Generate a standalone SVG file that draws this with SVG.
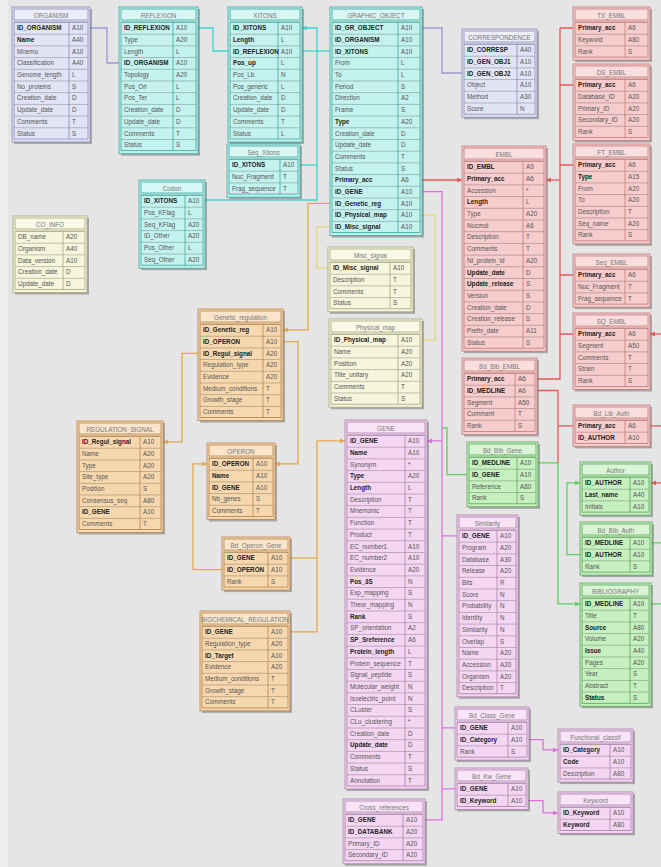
<svg xmlns="http://www.w3.org/2000/svg" width="661" height="867" viewBox="0 0 661 867">
<style>
.t{font:6.3px "Liberation Sans",Arial,sans-serif;fill:#555}
.b{font-weight:bold;fill:#222}
.h{text-anchor:middle;fill:#777}
.sh{fill:#6a6a6a;opacity:.5}
.ti{fill:#fff;fill-opacity:.35}
.rw{fill:url(#rl)}
.bx,.ti,.rw,.dv{stroke-width:.8}
.dv{fill:none}
.lav .bx{fill:#e2e4f6}.lav .bx,.lav .ti,.lav .rw,.lav .dv{stroke:#8c8cb4}
.cy .bx{fill:#c4f2ee}.cy .bx,.cy .ti,.cy .rw,.cy .dv{stroke:#3ca8a0}
.rd .bx{fill:#f7cccc}.rd .bx,.rd .ti,.rd .rw,.rd .dv{stroke:#c47c7c}
.og .bx{fill:#f7d8ae}.og .bx,.og .ti,.og .rw,.og .dv{stroke:#b48450}
.ye .bx{fill:#f6f6dc}.ye .bx,.ye .ti,.ye .rw,.ye .dv{stroke:#a8a880}
.mg .bx{fill:#f4d6f2}.mg .bx,.mg .ti,.mg .rw,.mg .dv{stroke:#a882a8}
.gn .bx{fill:#c6f0c0}.gn .bx,.gn .ti,.gn .rw,.gn .dv{stroke:#5ca85c}
#conn path{fill:none;stroke-width:1.3}
.cl{stroke:#9a9ad0}.cc{stroke:#3cd6cc}.cr{stroke:#e85858}.co{stroke:#e8a848}.cyl{stroke:#e2dc70}.cm{stroke:#e070e0}.cg{stroke:#60d060}
</style>
<defs>
<pattern id="rl" patternUnits="userSpaceOnUse" x="0" y="15" width="300" height="11.7"><path d="M0 .4H300" stroke="#000" stroke-opacity=".3" stroke-width=".8"/></pattern>
<marker id="ar" viewBox="0 0 6 6" refX="6" refY="3" markerWidth="5" markerHeight="5" orient="auto" markerUnits="userSpaceOnUse"><path d="M0 0L6 3L0 6z" fill="#e85858"/></marker>
<marker id="ac" viewBox="0 0 6 6" refX="6" refY="3" markerWidth="5" markerHeight="5" orient="auto" markerUnits="userSpaceOnUse"><path d="M0 0L6 3L0 6z" fill="#3cd6cc"/></marker>
<marker id="am" viewBox="0 0 6 6" refX="6" refY="3" markerWidth="5" markerHeight="5" orient="auto" markerUnits="userSpaceOnUse"><path d="M0 0L6 3L0 6z" fill="#e070e0"/></marker>
<marker id="ao" viewBox="0 0 6 6" refX="6" refY="3" markerWidth="5" markerHeight="5" orient="auto" markerUnits="userSpaceOnUse"><path d="M0 0L6 3L0 6z" fill="#e8a848"/></marker>
<marker id="ag" viewBox="0 0 6 6" refX="6" refY="3" markerWidth="5" markerHeight="5" orient="auto" markerUnits="userSpaceOnUse"><path d="M0 0L6 3L0 6z" fill="#60d060"/></marker>
</defs>
<rect width="661" height="867" fill="#e5e5e6"/>
<rect width="8" height="867" fill="#efefef"/>

<g id="conn">
<path class="cl" d="M90 28H107V63H119"/>
<path class="cl" d="M422 28H442V73H462"/>
<path class="cc" d="M198 28H213V51H228"/>
<path class="cc" d="M302 51H330"/>
<path class="cc" d="M205 200H317V28H302" marker-end="url(#ac)"/>
<path class="cc" d="M300 165H317"/>
<path class="cr" d="M422 180H462" marker-end="url(#ar)"/>
<path class="cr" d="M560 28V379H537"/>
<path class="cr" d="M560 28H573M560 85H573M560 165H573M560 275H573M560 334H573"/>
<path class="cr" d="M560 180H546" marker-end="url(#ar)"/>
<path class="cr" d="M537 390.5H558V462.9"/>
<path class="cr" d="M558 425.9H573"/>
<path class="cr" d="M650 425.9H661"/>
<path class="cr" d="M661 334H650" marker-end="url(#ar)"/>
<path class="cr" d="M661 482.9H651" marker-end="url(#ar)"/>
<path class="cg" d="M538 462.9H558V603.9H580" marker-end="url(#ag)"/>
<path class="cg" d="M580 554.6H567V482.9H580" marker-end="url(#ag)"/>
<path class="cg" d="M442 428H447V474.6H467"/>
<path class="cg" d="M652 542.9H661M651 603.9H661"/>
<path class="cm" d="M422 191.7H442V819.9H425"/>
<path class="cm" d="M442 440.9H427" marker-end="url(#am)"/>
<path class="cm" d="M442 535.9H457M442 727.9H455M442 788.9H455"/>
<path class="cm" d="M529 739.6H543V749.9H558" marker-end="url(#am)"/>
<path class="cm" d="M528 800.6H543V812.9H558" marker-end="url(#am)"/>
<path class="co" d="M330 203.4H308V329.9H283" marker-end="url(#ao)"/>
<path class="co" d="M283 341.6H298V463.9H275" marker-end="url(#ao)"/>
<path class="co" d="M198 353.3H182V441.9H163" marker-end="url(#ao)"/>
<path class="co" d="M222 569.6H193V463.9H207" marker-end="url(#ao)"/>
<path class="co" d="M290 557.9H317"/>
<path class="co" d="M290 631.9H317V440.9H345" marker-end="url(#ao)"/>
<path class="cyl" d="M330 226.8H317V267.9H328"/>
<path class="cyl" d="M422 215.1H435V339.9H422"/>
</g>

<g id="organism" class="lav" transform="translate(12,7)">
<rect class="sh" x="2" y="2" width="78" height="135"/><rect class="bx" width="78" height="135"/><rect class="ti" x="2" y="2" width="74" height="11"/><rect class="rw" x="2" y="15" width="74" height="117"/><path class="dv" d="M57 15v117"/>
<text class="t"><tspan class="h" x="39" y="10.5">ORGANISM</tspan><tspan class="b" x="5" y="23.2">ID_ORGANISM</tspan><tspan x="60" y="23.2">A10</tspan><tspan class="b" x="5" y="34.9">Name</tspan><tspan x="60" y="34.9">A40</tspan><tspan x="5" y="46.6">Mnemo</tspan><tspan x="60" y="46.6">A10</tspan><tspan x="5" y="58.3">Classification</tspan><tspan x="60" y="58.3">A40</tspan><tspan x="5" y="70">Genome_length</tspan><tspan x="60" y="70">L</tspan><tspan x="5" y="81.7">No_proteins</tspan><tspan x="60" y="81.7">S</tspan><tspan x="5" y="93.4">Creation_date</tspan><tspan x="60" y="93.4">D</tspan><tspan x="5" y="105.1">Update_date</tspan><tspan x="60" y="105.1">D</tspan><tspan x="5" y="116.8">Comments</tspan><tspan x="60" y="116.8">T</tspan><tspan x="5" y="128.5">Status</tspan><tspan x="60" y="128.5">S</tspan></text>
</g>

<g id="reflexion" class="cy" transform="translate(119,7)">
<rect class="sh" x="2" y="2" width="79" height="146.7"/><rect class="bx" width="79" height="146.7"/><rect class="ti" x="2" y="2" width="75" height="11"/><rect class="rw" x="2" y="15" width="75" height="128.7"/><path class="dv" d="M54 15v128.7"/>
<text class="t"><tspan class="h" x="39.5" y="10.5">REFLEXION</tspan><tspan class="b" x="5" y="23.2">ID_REFLEXION</tspan><tspan x="57" y="23.2">A10</tspan><tspan x="5" y="34.9">Type</tspan><tspan x="57" y="34.9">A20</tspan><tspan x="5" y="46.6">Length</tspan><tspan x="57" y="46.6">L</tspan><tspan class="b" x="5" y="58.3">ID_ORGANISM</tspan><tspan x="57" y="58.3">A10</tspan><tspan x="5" y="70">Topology</tspan><tspan x="57" y="70">A20</tspan><tspan x="5" y="81.7">Pos_Ori</tspan><tspan x="57" y="81.7">L</tspan><tspan x="5" y="93.4">Pos_Ter</tspan><tspan x="57" y="93.4">L</tspan><tspan x="5" y="105.1">Creation_date</tspan><tspan x="57" y="105.1">D</tspan><tspan x="5" y="116.8">Update_date</tspan><tspan x="57" y="116.8">D</tspan><tspan x="5" y="128.5">Comments</tspan><tspan x="57" y="128.5">T</tspan><tspan x="5" y="140.2">Status</tspan><tspan x="57" y="140.2">S</tspan></text>
</g>

<g id="xitons" class="cy" transform="translate(228,7)">
<rect class="sh" x="2" y="2" width="74" height="135"/><rect class="bx" width="74" height="135"/><rect class="ti" x="2" y="2" width="70" height="11"/><rect class="rw" x="2" y="15" width="70" height="117"/><path class="dv" d="M50 15v117"/>
<text class="t"><tspan class="h" x="37" y="10.5">XITONS</tspan><tspan class="b" x="5" y="23.2">ID_XITONS</tspan><tspan x="53" y="23.2">A10</tspan><tspan class="b" x="5" y="34.9">Length</tspan><tspan x="53" y="34.9">L</tspan><tspan class="b" x="5" y="46.6">ID_REFLEXION</tspan><tspan x="53" y="46.6">A10</tspan><tspan class="b" x="5" y="58.3">Pos_up</tspan><tspan x="53" y="58.3">L</tspan><tspan x="5" y="70">Pos_Lb</tspan><tspan x="53" y="70">N</tspan><tspan x="5" y="81.7">Pos_generic</tspan><tspan x="53" y="81.7">L</tspan><tspan x="5" y="93.4">Creation_date</tspan><tspan x="53" y="93.4">D</tspan><tspan x="5" y="105.1">Update_date</tspan><tspan x="53" y="105.1">D</tspan><tspan x="5" y="116.8">Comments</tspan><tspan x="53" y="116.8">T</tspan><tspan x="5" y="128.5">Status</tspan><tspan x="53" y="128.5">L</tspan></text>
</g>

<g id="seq_xitons" class="cy" transform="translate(227,144)">
<rect class="sh" x="2" y="2" width="73" height="53.1"/><rect class="bx" width="73" height="53.1"/><rect class="ti" x="2" y="2" width="69" height="11"/><rect class="rw" x="2" y="15" width="69" height="35.1"/><path class="dv" d="M53 15v35.1"/>
<text class="t"><tspan class="h" x="36.5" y="10.5">Seq_Xitons</tspan><tspan class="b" x="5" y="23.2">ID_XITONS</tspan><tspan x="56" y="23.2">A10</tspan><tspan x="5" y="34.9">Nuc_Fragment</tspan><tspan x="56" y="34.9">T</tspan><tspan x="5" y="46.6">Frag_sequence</tspan><tspan x="56" y="46.6">T</tspan></text>
</g>

<g id="graphic_object" class="cy" transform="translate(330,7)">
<rect class="sh" x="2" y="2" width="92" height="228.6"/><rect class="bx" width="92" height="228.6"/><rect class="ti" x="2" y="2" width="88" height="11"/><rect class="rw" x="2" y="15" width="88" height="210.6"/><path class="dv" d="M68 15v210.6"/>
<text class="t"><tspan class="h" x="46" y="10.5">GRAPHIC_OBJECT</tspan><tspan class="b" x="5" y="23.2">ID_GR_OBJECT</tspan><tspan x="71" y="23.2">A10</tspan><tspan class="b" x="5" y="34.9">ID_ORGANISM</tspan><tspan x="71" y="34.9">A10</tspan><tspan class="b" x="5" y="46.6">ID_XITONS</tspan><tspan x="71" y="46.6">A10</tspan><tspan x="5" y="58.3">From</tspan><tspan x="71" y="58.3">L</tspan><tspan x="5" y="70">To</tspan><tspan x="71" y="70">L</tspan><tspan x="5" y="81.7">Period</tspan><tspan x="71" y="81.7">S</tspan><tspan x="5" y="93.4">Direction</tspan><tspan x="71" y="93.4">A2</tspan><tspan x="5" y="105.1">Frame</tspan><tspan x="71" y="105.1">S</tspan><tspan class="b" x="5" y="116.8">Type</tspan><tspan x="71" y="116.8">A20</tspan><tspan x="5" y="128.5">Creation_date</tspan><tspan x="71" y="128.5">D</tspan><tspan x="5" y="140.2">Update_date</tspan><tspan x="71" y="140.2">D</tspan><tspan x="5" y="151.9">Comments</tspan><tspan x="71" y="151.9">T</tspan><tspan x="5" y="163.6">Status</tspan><tspan x="71" y="163.6">S</tspan><tspan class="b" x="5" y="175.3">Primary_acc</tspan><tspan x="71" y="175.3">A6</tspan><tspan class="b" x="5" y="187">ID_GENE</tspan><tspan x="71" y="187">A10</tspan><tspan class="b" x="5" y="198.7">ID_Genetic_reg</tspan><tspan x="71" y="198.7">A10</tspan><tspan class="b" x="5" y="210.4">ID_Physical_map</tspan><tspan x="71" y="210.4">A10</tspan><tspan class="b" x="5" y="222.1">ID_Misc_signal</tspan><tspan x="71" y="222.1">A10</tspan></text>
</g>

<g id="correspondence" class="lav" transform="translate(462,29)">
<rect class="sh" x="2" y="2" width="75" height="88.2"/><rect class="bx" width="75" height="88.2"/><rect class="ti" x="2" y="2" width="71" height="11"/><rect class="rw" x="2" y="15" width="71" height="70.2"/><path class="dv" d="M55 15v70.2"/>
<text class="t"><tspan class="h" x="37.5" y="10.5">CORRESPONDENCE</tspan><tspan class="b" x="5" y="23.2">ID_CORRESP</tspan><tspan x="58" y="23.2">A40</tspan><tspan class="b" x="5" y="34.9">ID_GEN_OBJ1</tspan><tspan x="58" y="34.9">A10</tspan><tspan class="b" x="5" y="46.6">ID_GEN_OBJ2</tspan><tspan x="58" y="46.6">A10</tspan><tspan x="5" y="58.3">Object</tspan><tspan x="58" y="58.3">A10</tspan><tspan x="5" y="70">Method</tspan><tspan x="58" y="70">A30</tspan><tspan x="5" y="81.7">Score</tspan><tspan x="58" y="81.7">N</tspan></text>
</g>

<g id="tx_embl" class="rd" transform="translate(573,7)">
<rect class="sh" x="2" y="2" width="77" height="53.1"/><rect class="bx" width="77" height="53.1"/><rect class="ti" x="2" y="2" width="73" height="11"/><rect class="rw" x="2" y="15" width="73" height="35.1"/><path class="dv" d="M52 15v35.1"/>
<text class="t"><tspan class="h" x="38.5" y="10.5">TX_EMBL</tspan><tspan class="b" x="5" y="23.2">Primary_acc</tspan><tspan x="55" y="23.2">A6</tspan><tspan x="5" y="34.9">Keyword</tspan><tspan x="55" y="34.9">A80</tspan><tspan x="5" y="46.6">Rank</tspan><tspan x="55" y="46.6">S</tspan></text>
</g>

<g id="ds_embl" class="rd" transform="translate(573,64)">
<rect class="sh" x="2" y="2" width="77" height="76.5"/><rect class="bx" width="77" height="76.5"/><rect class="ti" x="2" y="2" width="73" height="11"/><rect class="rw" x="2" y="15" width="73" height="58.5"/><path class="dv" d="M52 15v58.5"/>
<text class="t"><tspan class="h" x="38.5" y="10.5">DS_EMBL</tspan><tspan class="b" x="5" y="23.2">Primary_acc</tspan><tspan x="55" y="23.2">A6</tspan><tspan x="5" y="34.9">Database_ID</tspan><tspan x="55" y="34.9">A20</tspan><tspan x="5" y="46.6">Primary_ID</tspan><tspan x="55" y="46.6">A20</tspan><tspan x="5" y="58.3">Secondary_ID</tspan><tspan x="55" y="58.3">A20</tspan><tspan x="5" y="70">Rank</tspan><tspan x="55" y="70">S</tspan></text>
</g>

<g id="ft_embl" class="rd" transform="translate(573,144)">
<rect class="sh" x="2" y="2" width="77" height="99.9"/><rect class="bx" width="77" height="99.9"/><rect class="ti" x="2" y="2" width="73" height="11"/><rect class="rw" x="2" y="15" width="73" height="81.9"/><path class="dv" d="M52 15v81.9"/>
<text class="t"><tspan class="h" x="38.5" y="10.5">FT_EMBL</tspan><tspan class="b" x="5" y="23.2">Primary_acc</tspan><tspan x="55" y="23.2">A6</tspan><tspan class="b" x="5" y="34.9">Type</tspan><tspan x="55" y="34.9">A15</tspan><tspan x="5" y="46.6">From</tspan><tspan x="55" y="46.6">A20</tspan><tspan x="5" y="58.3">To</tspan><tspan x="55" y="58.3">A20</tspan><tspan x="5" y="70">Description</tspan><tspan x="55" y="70">T</tspan><tspan x="5" y="81.7">Seq_name</tspan><tspan x="55" y="81.7">A20</tspan><tspan x="5" y="93.4">Rank</tspan><tspan x="55" y="93.4">S</tspan></text>
</g>

<g id="seq_embl" class="rd" transform="translate(573,254)">
<rect class="sh" x="2" y="2" width="77" height="53.1"/><rect class="bx" width="77" height="53.1"/><rect class="ti" x="2" y="2" width="73" height="11"/><rect class="rw" x="2" y="15" width="73" height="35.1"/><path class="dv" d="M52 15v35.1"/>
<text class="t"><tspan class="h" x="38.5" y="10.5">Seq_EMBL</tspan><tspan class="b" x="5" y="23.2">Primary_acc</tspan><tspan x="55" y="23.2">A6</tspan><tspan x="5" y="34.9">Nuc_Fragment</tspan><tspan x="55" y="34.9">T</tspan><tspan x="5" y="46.6">Frag_sequence</tspan><tspan x="55" y="46.6">T</tspan></text>
</g>

<g id="sq_embl" class="rd" transform="translate(573,313)">
<rect class="sh" x="2" y="2" width="77" height="76.5"/><rect class="bx" width="77" height="76.5"/><rect class="ti" x="2" y="2" width="73" height="11"/><rect class="rw" x="2" y="15" width="73" height="58.5"/><path class="dv" d="M52 15v58.5"/>
<text class="t"><tspan class="h" x="38.5" y="10.5">SQ_EMBL</tspan><tspan class="b" x="5" y="23.2">Primary_acc</tspan><tspan x="55" y="23.2">A6</tspan><tspan x="5" y="34.9">Segment</tspan><tspan x="55" y="34.9">A50</tspan><tspan x="5" y="46.6">Comments</tspan><tspan x="55" y="46.6">T</tspan><tspan x="5" y="58.3">Strain</tspan><tspan x="55" y="58.3">T</tspan><tspan x="5" y="70">Rank</tspan><tspan x="55" y="70">S</tspan></text>
</g>

<g id="bd_lib_auth" class="rd" transform="translate(573,405)">
<rect class="sh" x="2" y="2" width="77" height="41.4"/><rect class="bx" width="77" height="41.4"/><rect class="ti" x="2" y="2" width="73" height="11"/><rect class="rw" x="2" y="15" width="73" height="23.4"/><path class="dv" d="M52 15v23.4"/>
<text class="t"><tspan class="h" x="38.5" y="10.5">Bd_Lib_Auth</tspan><tspan class="b" x="5" y="23.2">Primary_acc</tspan><tspan x="55" y="23.2">A6</tspan><tspan class="b" x="5" y="34.9">ID_AUTHOR</tspan><tspan x="55" y="34.9">A10</tspan></text>
</g>

<g id="embl" class="rd" transform="translate(462,146)">
<rect class="sh" x="2" y="2" width="84" height="205.2"/><rect class="bx" width="84" height="205.2"/><rect class="ti" x="2" y="2" width="80" height="11"/><rect class="rw" x="2" y="15" width="80" height="187.2"/><path class="dv" d="M61 15v187.2"/>
<text class="t"><tspan class="h" x="42" y="10.5">EMBL</tspan><tspan class="b" x="5" y="23.2">ID_EMBL</tspan><tspan x="64" y="23.2">A9</tspan><tspan class="b" x="5" y="34.9">Primary_acc</tspan><tspan x="64" y="34.9">A6</tspan><tspan x="5" y="46.6">Accession</tspan><tspan x="64" y="46.6">*</tspan><tspan class="b" x="5" y="58.3">Length</tspan><tspan x="64" y="58.3">L</tspan><tspan x="5" y="70">Type</tspan><tspan x="64" y="70">A20</tspan><tspan x="5" y="81.7">Nucmol</tspan><tspan x="64" y="81.7">A6</tspan><tspan x="5" y="93.4">Description</tspan><tspan x="64" y="93.4">T</tspan><tspan x="5" y="105.1">Comments</tspan><tspan x="64" y="105.1">T</tspan><tspan x="5" y="116.8">NI_protein_id</tspan><tspan x="64" y="116.8">A20</tspan><tspan class="b" x="5" y="128.5">Update_date</tspan><tspan x="64" y="128.5">D</tspan><tspan class="b" x="5" y="140.2">Update_release</tspan><tspan x="64" y="140.2">S</tspan><tspan x="5" y="151.9">Version</tspan><tspan x="64" y="151.9">S</tspan><tspan x="5" y="163.6">Creation_date</tspan><tspan x="64" y="163.6">D</tspan><tspan x="5" y="175.3">Creation_release</tspan><tspan x="64" y="175.3">S</tspan><tspan x="5" y="187">Prefix_date</tspan><tspan x="64" y="187">A11</tspan><tspan x="5" y="198.7">Status</tspan><tspan x="64" y="198.7">S</tspan></text>
</g>

<g id="bd_bib_embl" class="rd" transform="translate(462,358)">
<rect class="sh" x="2" y="2" width="75" height="76.5"/><rect class="bx" width="75" height="76.5"/><rect class="ti" x="2" y="2" width="71" height="11"/><rect class="rw" x="2" y="15" width="71" height="58.5"/><path class="dv" d="M53 15v58.5"/>
<text class="t"><tspan class="h" x="37.5" y="10.5">Bd_Bib_EMBL</tspan><tspan class="b" x="5" y="23.2">Primary_acc</tspan><tspan x="56" y="23.2">A6</tspan><tspan class="b" x="5" y="34.9">ID_MEDLINE</tspan><tspan x="56" y="34.9">A6</tspan><tspan x="5" y="46.6">Segment</tspan><tspan x="56" y="46.6">A50</tspan><tspan x="5" y="58.3">Comment</tspan><tspan x="56" y="58.3">T</tspan><tspan x="5" y="70">Rank</tspan><tspan x="56" y="70">S</tspan></text>
</g>

<g id="co_info" class="ye" transform="translate(13,216)">
<rect class="sh" x="2" y="2" width="74" height="76.5"/><rect class="bx" width="74" height="76.5"/><rect class="ti" x="2" y="2" width="70" height="11"/><rect class="rw" x="2" y="15" width="70" height="58.5"/><path class="dv" d="M50 15v58.5"/>
<text class="t"><tspan class="h" x="37" y="10.5">CO_INFO</tspan><tspan x="5" y="23.2">DB_name</tspan><tspan x="53" y="23.2">A20</tspan><tspan x="5" y="34.9">Organism</tspan><tspan x="53" y="34.9">A40</tspan><tspan x="5" y="46.6">Data_version</tspan><tspan x="53" y="46.6">A10</tspan><tspan x="5" y="58.3">Creation_date</tspan><tspan x="53" y="58.3">D</tspan><tspan x="5" y="70">Update_date</tspan><tspan x="53" y="70">D</tspan></text>
</g>

<g id="codon" class="cy" transform="translate(139,180)">
<rect class="sh" x="2" y="2" width="66" height="88.2"/><rect class="bx" width="66" height="88.2"/><rect class="ti" x="2" y="2" width="62" height="11"/><rect class="rw" x="2" y="15" width="62" height="70.2"/><path class="dv" d="M46 15v70.2"/>
<text class="t"><tspan class="h" x="33" y="10.5">Codon</tspan><tspan class="b" x="5" y="23.2">ID_XITONS</tspan><tspan x="49" y="23.2">A10</tspan><tspan x="5" y="34.9">Pos_KFlag</tspan><tspan x="49" y="34.9">L</tspan><tspan x="5" y="46.6">Seq_KFlag</tspan><tspan x="49" y="46.6">A20</tspan><tspan x="5" y="58.3">ID_Other</tspan><tspan x="49" y="58.3">A20</tspan><tspan x="5" y="70">Pos_Other</tspan><tspan x="49" y="70">L</tspan><tspan x="5" y="81.7">Seq_Other</tspan><tspan x="49" y="81.7">A20</tspan></text>
</g>

<g id="misc_signal" class="ye" transform="translate(328,247)">
<rect class="sh" x="2" y="2" width="85" height="64.8"/><rect class="bx" width="85" height="64.8"/><rect class="ti" x="2" y="2" width="81" height="11"/><rect class="rw" x="2" y="15" width="81" height="46.8"/><path class="dv" d="M62 15v46.8"/>
<text class="t"><tspan class="h" x="42.5" y="10.5">Misc_signal</tspan><tspan class="b" x="5" y="23.2">ID_Misc_signal</tspan><tspan x="65" y="23.2">A10</tspan><tspan x="5" y="34.9">Description</tspan><tspan x="65" y="34.9">T</tspan><tspan x="5" y="46.6">Comments</tspan><tspan x="65" y="46.6">T</tspan><tspan x="5" y="58.3">Status</tspan><tspan x="65" y="58.3">S</tspan></text>
</g>

<g id="physical_map" class="ye" transform="translate(329,319)">
<rect class="sh" x="2" y="2" width="93" height="88.2"/><rect class="bx" width="93" height="88.2"/><rect class="ti" x="2" y="2" width="89" height="11"/><rect class="rw" x="2" y="15" width="89" height="70.2"/><path class="dv" d="M69 15v70.2"/>
<text class="t"><tspan class="h" x="46.5" y="10.5">Physical_map</tspan><tspan class="b" x="5" y="23.2">ID_Physical_map</tspan><tspan x="72" y="23.2">A10</tspan><tspan x="5" y="34.9">Name</tspan><tspan x="72" y="34.9">A20</tspan><tspan x="5" y="46.6">Position</tspan><tspan x="72" y="46.6">A20</tspan><tspan x="5" y="58.3">Title_unitary</tspan><tspan x="72" y="58.3">A20</tspan><tspan x="5" y="70">Comments</tspan><tspan x="72" y="70">T</tspan><tspan x="5" y="81.7">Status</tspan><tspan x="72" y="81.7">S</tspan></text>
</g>

<g id="genetic_regulation" class="og" transform="translate(198,309)">
<rect class="sh" x="2" y="2" width="85" height="111.6"/><rect class="bx" width="85" height="111.6"/><rect class="ti" x="2" y="2" width="81" height="11"/><rect class="rw" x="2" y="15" width="81" height="93.6"/><path class="dv" d="M65 15v93.6"/>
<text class="t"><tspan class="h" x="42.5" y="10.5">Genetic_regulation</tspan><tspan class="b" x="5" y="23.2">ID_Genetic_reg</tspan><tspan x="68" y="23.2">A10</tspan><tspan class="b" x="5" y="34.9">ID_OPERON</tspan><tspan x="68" y="34.9">A10</tspan><tspan class="b" x="5" y="46.6">ID_Regul_signal</tspan><tspan x="68" y="46.6">A20</tspan><tspan x="5" y="58.3">Regulation_type</tspan><tspan x="68" y="58.3">A20</tspan><tspan x="5" y="70">Evidence</tspan><tspan x="68" y="70">A20</tspan><tspan x="5" y="81.7">Medium_conditions</tspan><tspan x="68" y="81.7">T</tspan><tspan x="5" y="93.4">Growth_stage</tspan><tspan x="68" y="93.4">T</tspan><tspan x="5" y="105.1">Comments</tspan><tspan x="68" y="105.1">T</tspan></text>
</g>

<g id="regulation_signal" class="og" transform="translate(77,421)">
<rect class="sh" x="2" y="2" width="86" height="111.6"/><rect class="bx" width="86" height="111.6"/><rect class="ti" x="2" y="2" width="82" height="11"/><rect class="rw" x="2" y="15" width="82" height="93.6"/><path class="dv" d="M63 15v93.6"/>
<text class="t"><tspan class="h" x="43" y="10.5">REGULATION_SIGNAL</tspan><tspan class="b" x="5" y="23.2">ID_Regul_signal</tspan><tspan x="66" y="23.2">A10</tspan><tspan x="5" y="34.9">Name</tspan><tspan x="66" y="34.9">A20</tspan><tspan x="5" y="46.6">Type</tspan><tspan x="66" y="46.6">A20</tspan><tspan x="5" y="58.3">Site_type</tspan><tspan x="66" y="58.3">A20</tspan><tspan x="5" y="70">Position</tspan><tspan x="66" y="70">S</tspan><tspan x="5" y="81.7">Consensus_seq</tspan><tspan x="66" y="81.7">A80</tspan><tspan class="b" x="5" y="93.4">ID_GENE</tspan><tspan x="66" y="93.4">A10</tspan><tspan x="5" y="105.1">Comments</tspan><tspan x="66" y="105.1">T</tspan></text>
</g>

<g id="operon" class="og" transform="translate(207,443)">
<rect class="sh" x="2" y="2" width="68" height="76.5"/><rect class="bx" width="68" height="76.5"/><rect class="ti" x="2" y="2" width="64" height="11"/><rect class="rw" x="2" y="15" width="64" height="58.5"/><path class="dv" d="M46 15v58.5"/>
<text class="t"><tspan class="h" x="34" y="10.5">OPERON</tspan><tspan class="b" x="5" y="23.2">ID_OPERON</tspan><tspan x="49" y="23.2">A10</tspan><tspan class="b" x="5" y="34.9">Name</tspan><tspan x="49" y="34.9">A10</tspan><tspan class="b" x="5" y="46.6">ID_GENE</tspan><tspan x="49" y="46.6">A10</tspan><tspan x="5" y="58.3">Nb_genes</tspan><tspan x="49" y="58.3">S</tspan><tspan x="5" y="70">Comments</tspan><tspan x="49" y="70">T</tspan></text>
</g>

<g id="bd_operon_gene" class="og" transform="translate(222,537)">
<rect class="sh" x="2" y="2" width="68" height="53.1"/><rect class="bx" width="68" height="53.1"/><rect class="ti" x="2" y="2" width="64" height="11"/><rect class="rw" x="2" y="15" width="64" height="35.1"/><path class="dv" d="M46 15v35.1"/>
<text class="t"><tspan class="h" x="34" y="10.5">Bd_Operon_Gene</tspan><tspan class="b" x="5" y="23.2">ID_GENE</tspan><tspan x="49" y="23.2">A10</tspan><tspan class="b" x="5" y="34.9">ID_OPERON</tspan><tspan x="49" y="34.9">A10</tspan><tspan x="5" y="46.6">Rank</tspan><tspan x="49" y="46.6">S</tspan></text>
</g>

<g id="biochemical_regulation" class="og" transform="translate(200,611)">
<rect class="sh" x="2" y="2" width="90" height="99.9"/><rect class="bx" width="90" height="99.9"/><rect class="ti" x="2" y="2" width="86" height="11"/><rect class="rw" x="2" y="15" width="86" height="81.9"/><path class="dv" d="M68 15v81.9"/>
<text class="t"><tspan class="h" x="45" y="10.5">BIOCHEMICAL_REGULATION</tspan><tspan class="b" x="5" y="23.2">ID_GENE</tspan><tspan x="71" y="23.2">A10</tspan><tspan x="5" y="34.9">Regulation_type</tspan><tspan x="71" y="34.9">A20</tspan><tspan class="b" x="5" y="46.6">ID_Target</tspan><tspan x="71" y="46.6">A10</tspan><tspan x="5" y="58.3">Evidence</tspan><tspan x="71" y="58.3">A20</tspan><tspan x="5" y="70">Medium_conditions</tspan><tspan x="71" y="70">T</tspan><tspan x="5" y="81.7">Growth_stage</tspan><tspan x="71" y="81.7">T</tspan><tspan x="5" y="93.4">Comments</tspan><tspan x="71" y="93.4">T</tspan></text>
</g>

<g id="gene" class="mg" transform="translate(345,420)">
<rect class="sh" x="2" y="2" width="82" height="369"/><rect class="bx" width="82" height="369"/><rect class="ti" x="2" y="2" width="78" height="11"/><rect class="rw" x="2" y="15" width="78" height="351"/><path class="dv" d="M60 15v351"/>
<text class="t"><tspan class="h" x="41" y="10.5">GENE</tspan><tspan class="b" x="5" y="23.2">ID_GENE</tspan><tspan x="63" y="23.2">A10</tspan><tspan class="b" x="5" y="34.9">Name</tspan><tspan x="63" y="34.9">A10</tspan><tspan x="5" y="46.6">Synonym</tspan><tspan x="63" y="46.6">*</tspan><tspan class="b" x="5" y="58.3">Type</tspan><tspan x="63" y="58.3">A20</tspan><tspan class="b" x="5" y="70">Length</tspan><tspan x="63" y="70">L</tspan><tspan x="5" y="81.7">Description</tspan><tspan x="63" y="81.7">T</tspan><tspan x="5" y="93.4">Mnemonic</tspan><tspan x="63" y="93.4">T</tspan><tspan x="5" y="105.1">Function</tspan><tspan x="63" y="105.1">T</tspan><tspan x="5" y="116.8">Product</tspan><tspan x="63" y="116.8">T</tspan><tspan x="5" y="128.5">EC_number1</tspan><tspan x="63" y="128.5">A10</tspan><tspan x="5" y="140.2">EC_number2</tspan><tspan x="63" y="140.2">A10</tspan><tspan x="5" y="151.9">Evidence</tspan><tspan x="63" y="151.9">A20</tspan><tspan class="b" x="5" y="163.6">Pos_3S</tspan><tspan x="63" y="163.6">N</tspan><tspan x="5" y="175.3">Exp_mapping</tspan><tspan x="63" y="175.3">S</tspan><tspan x="5" y="187">Theor_mapping</tspan><tspan x="63" y="187">N</tspan><tspan class="b" x="5" y="198.7">Rank</tspan><tspan x="63" y="198.7">S</tspan><tspan x="5" y="210.4">SP_orientation</tspan><tspan x="63" y="210.4">A2</tspan><tspan class="b" x="5" y="222.1">SP_Sreference</tspan><tspan x="63" y="222.1">A6</tspan><tspan class="b" x="5" y="233.8">Protein_length</tspan><tspan x="63" y="233.8">L</tspan><tspan x="5" y="245.5">Protein_sequence</tspan><tspan x="63" y="245.5">T</tspan><tspan x="5" y="257.2">Signal_peptide</tspan><tspan x="63" y="257.2">S</tspan><tspan x="5" y="268.9">Molecular_weight</tspan><tspan x="63" y="268.9">N</tspan><tspan x="5" y="280.6">Isoelectric_point</tspan><tspan x="63" y="280.6">N</tspan><tspan x="5" y="292.3">CLuster</tspan><tspan x="63" y="292.3">S</tspan><tspan x="5" y="304">CLu_clustering</tspan><tspan x="63" y="304">*</tspan><tspan x="5" y="315.7">Creation_date</tspan><tspan x="63" y="315.7">D</tspan><tspan class="b" x="5" y="327.4">Update_date</tspan><tspan x="63" y="327.4">D</tspan><tspan x="5" y="339.1">Comments</tspan><tspan x="63" y="339.1">T</tspan><tspan x="5" y="350.8">Status</tspan><tspan x="63" y="350.8">S</tspan><tspan x="5" y="362.5">Annotation</tspan><tspan x="63" y="362.5">T</tspan></text>
</g>

<g id="cross_references" class="mg" transform="translate(343,799)">
<rect class="sh" x="2" y="2" width="82" height="64.8"/><rect class="bx" width="82" height="64.8"/><rect class="ti" x="2" y="2" width="78" height="11"/><rect class="rw" x="2" y="15" width="78" height="46.8"/><path class="dv" d="M60 15v46.8"/>
<text class="t"><tspan class="h" x="41" y="10.5">Cross_references</tspan><tspan class="b" x="5" y="23.2">ID_GENE</tspan><tspan x="63" y="23.2">A10</tspan><tspan class="b" x="5" y="34.9">ID_DATABANK</tspan><tspan x="63" y="34.9">A20</tspan><tspan x="5" y="46.6">Primary_ID</tspan><tspan x="63" y="46.6">A20</tspan><tspan x="5" y="58.3">Secondary_ID</tspan><tspan x="63" y="58.3">A20</tspan></text>
</g>

<g id="bd_bib_gene" class="gn" transform="translate(467,442)">
<rect class="sh" x="2" y="2" width="71" height="64.8"/><rect class="bx" width="71" height="64.8"/><rect class="ti" x="2" y="2" width="67" height="11"/><rect class="rw" x="2" y="15" width="67" height="46.8"/><path class="dv" d="M50 15v46.8"/>
<text class="t"><tspan class="h" x="35.5" y="10.5">Bd_Bib_Gene</tspan><tspan class="b" x="5" y="23.2">ID_MEDLINE</tspan><tspan x="53" y="23.2">A10</tspan><tspan class="b" x="5" y="34.9">ID_GENE</tspan><tspan x="53" y="34.9">A10</tspan><tspan x="5" y="46.6">Reference</tspan><tspan x="53" y="46.6">A80</tspan><tspan x="5" y="58.3">Rank</tspan><tspan x="53" y="58.3">S</tspan></text>
</g>

<g id="similarity" class="mg" transform="translate(457,515)">
<rect class="sh" x="2" y="2" width="61" height="181.8"/><rect class="bx" width="61" height="181.8"/><rect class="ti" x="2" y="2" width="57" height="11"/><rect class="rw" x="2" y="15" width="57" height="163.8"/><path class="dv" d="M40 15v163.8"/>
<text class="t"><tspan class="h" x="30.5" y="10.5">Similarity</tspan><tspan class="b" x="5" y="23.2">ID_GENE</tspan><tspan x="43" y="23.2">A10</tspan><tspan x="5" y="34.9">Program</tspan><tspan x="43" y="34.9">A20</tspan><tspan x="5" y="46.6">Database</tspan><tspan x="43" y="46.6">A30</tspan><tspan x="5" y="58.3">Release</tspan><tspan x="43" y="58.3">A20</tspan><tspan x="5" y="70">Bits</tspan><tspan x="43" y="70">R</tspan><tspan x="5" y="81.7">Score</tspan><tspan x="43" y="81.7">N</tspan><tspan x="5" y="93.4">Probability</tspan><tspan x="43" y="93.4">N</tspan><tspan x="5" y="105.1">Identity</tspan><tspan x="43" y="105.1">N</tspan><tspan x="5" y="116.8">Similarity</tspan><tspan x="43" y="116.8">N</tspan><tspan x="5" y="128.5">Overlap</tspan><tspan x="43" y="128.5">S</tspan><tspan x="5" y="140.2">Name</tspan><tspan x="43" y="140.2">A20</tspan><tspan x="5" y="151.9">Accession</tspan><tspan x="43" y="151.9">A20</tspan><tspan x="5" y="163.6">Organism</tspan><tspan x="43" y="163.6">A20</tspan><tspan x="5" y="175.3">Description</tspan><tspan x="43" y="175.3">T</tspan></text>
</g>

<g id="author" class="gn" transform="translate(580,462)">
<rect class="sh" x="2" y="2" width="71" height="53.1"/><rect class="bx" width="71" height="53.1"/><rect class="ti" x="2" y="2" width="67" height="11"/><rect class="rw" x="2" y="15" width="67" height="35.1"/><path class="dv" d="M50 15v35.1"/>
<text class="t"><tspan class="h" x="35.5" y="10.5">Author</tspan><tspan class="b" x="5" y="23.2">ID_AUTHOR</tspan><tspan x="53" y="23.2">A10</tspan><tspan class="b" x="5" y="34.9">Last_name</tspan><tspan x="53" y="34.9">A40</tspan><tspan x="5" y="46.6">Initials</tspan><tspan x="53" y="46.6">A10</tspan></text>
</g>

<g id="bd_bib_auth" class="gn" transform="translate(580,522)">
<rect class="sh" x="2" y="2" width="72" height="53.1"/><rect class="bx" width="72" height="53.1"/><rect class="ti" x="2" y="2" width="68" height="11"/><rect class="rw" x="2" y="15" width="68" height="35.1"/><path class="dv" d="M50 15v35.1"/>
<text class="t"><tspan class="h" x="36" y="10.5">Bd_Bib_Auth</tspan><tspan class="b" x="5" y="23.2">ID_MEDLINE</tspan><tspan x="53" y="23.2">A10</tspan><tspan class="b" x="5" y="34.9">ID_AUTHOR</tspan><tspan x="53" y="34.9">A10</tspan><tspan x="5" y="46.6">Rank</tspan><tspan x="53" y="46.6">S</tspan></text>
</g>

<g id="bibliography" class="gn" transform="translate(580,583)">
<rect class="sh" x="2" y="2" width="71" height="123.3"/><rect class="bx" width="71" height="123.3"/><rect class="ti" x="2" y="2" width="67" height="11"/><rect class="rw" x="2" y="15" width="67" height="105.3"/><path class="dv" d="M50 15v105.3"/>
<text class="t"><tspan class="h" x="35.5" y="10.5">BIBLIOGRAPHY</tspan><tspan class="b" x="5" y="23.2">ID_MEDLINE</tspan><tspan x="53" y="23.2">A10</tspan><tspan x="5" y="34.9">Title</tspan><tspan x="53" y="34.9">T</tspan><tspan class="b" x="5" y="46.6">Source</tspan><tspan x="53" y="46.6">A80</tspan><tspan x="5" y="58.3">Volume</tspan><tspan x="53" y="58.3">A20</tspan><tspan class="b" x="5" y="70">Issue</tspan><tspan x="53" y="70">A40</tspan><tspan x="5" y="81.7">Pages</tspan><tspan x="53" y="81.7">A20</tspan><tspan x="5" y="93.4">Year</tspan><tspan x="53" y="93.4">S</tspan><tspan x="5" y="105.1">Abstract</tspan><tspan x="53" y="105.1">T</tspan><tspan class="b" x="5" y="116.8">Status</tspan><tspan x="53" y="116.8">S</tspan></text>
</g>

<g id="bd_class_gene" class="mg" transform="translate(455,707)">
<rect class="sh" x="2" y="2" width="74" height="53.1"/><rect class="bx" width="74" height="53.1"/><rect class="ti" x="2" y="2" width="70" height="11"/><rect class="rw" x="2" y="15" width="70" height="35.1"/><path class="dv" d="M53 15v35.1"/>
<text class="t"><tspan class="h" x="37" y="10.5">Bd_Class_Gene</tspan><tspan class="b" x="5" y="23.2">ID_GENE</tspan><tspan x="56" y="23.2">A10</tspan><tspan class="b" x="5" y="34.9">ID_Category</tspan><tspan x="56" y="34.9">A10</tspan><tspan x="5" y="46.6">Rank</tspan><tspan x="56" y="46.6">S</tspan></text>
</g>

<g id="bd_kw_gene" class="mg" transform="translate(455,768)">
<rect class="sh" x="2" y="2" width="73" height="41.4"/><rect class="bx" width="73" height="41.4"/><rect class="ti" x="2" y="2" width="69" height="11"/><rect class="rw" x="2" y="15" width="69" height="23.4"/><path class="dv" d="M53 15v23.4"/>
<text class="t"><tspan class="h" x="36.5" y="10.5">Bd_Kw_Gene</tspan><tspan class="b" x="5" y="23.2">ID_GENE</tspan><tspan x="56" y="23.2">A10</tspan><tspan class="b" x="5" y="34.9">ID_Keyword</tspan><tspan x="56" y="34.9">A10</tspan></text>
</g>

<g id="functional_classif" class="mg" transform="translate(558,729)">
<rect class="sh" x="2" y="2" width="75" height="53.1"/><rect class="bx" width="75" height="53.1"/><rect class="ti" x="2" y="2" width="71" height="11"/><rect class="rw" x="2" y="15" width="71" height="35.1"/><path class="dv" d="M52 15v35.1"/>
<text class="t"><tspan class="h" x="37.5" y="10.5">Functional_classif</tspan><tspan class="b" x="5" y="23.2">ID_Category</tspan><tspan x="55" y="23.2">A10</tspan><tspan class="b" x="5" y="34.9">Code</tspan><tspan x="55" y="34.9">A10</tspan><tspan x="5" y="46.6">Description</tspan><tspan x="55" y="46.6">A80</tspan></text>
</g>

<g id="keyword" class="mg" transform="translate(558,792)">
<rect class="sh" x="2" y="2" width="75" height="41.4"/><rect class="bx" width="75" height="41.4"/><rect class="ti" x="2" y="2" width="71" height="11"/><rect class="rw" x="2" y="15" width="71" height="23.4"/><path class="dv" d="M52 15v23.4"/>
<text class="t"><tspan class="h" x="37.5" y="10.5">Keyword</tspan><tspan class="b" x="5" y="23.2">ID_Keyword</tspan><tspan x="55" y="23.2">A10</tspan><tspan class="b" x="5" y="34.9">Keyword</tspan><tspan x="55" y="34.9">A80</tspan></text>
</g>
</svg>
